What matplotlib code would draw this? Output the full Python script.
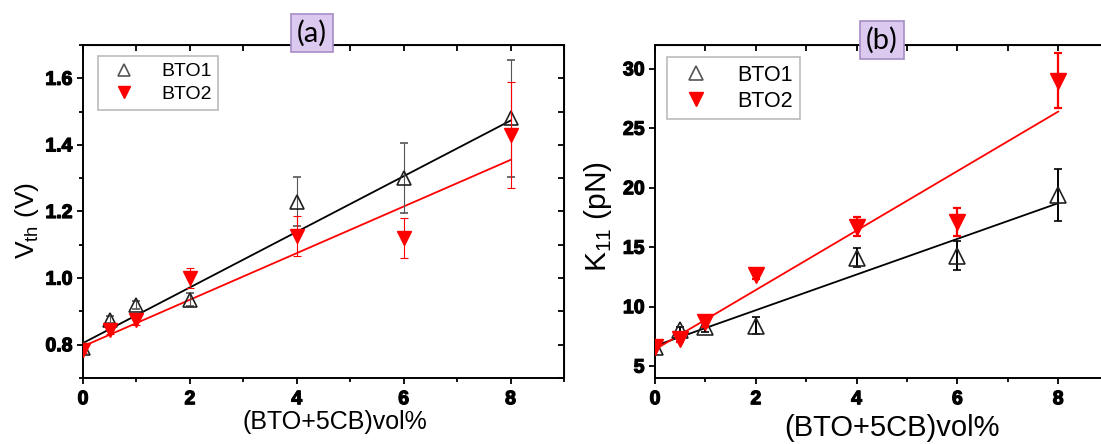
import matplotlib
matplotlib.use('Agg')
import matplotlib.pyplot as plt
import matplotlib.patheffects as pe
import numpy as np
from matplotlib.ticker import MultipleLocator

plt.rcParams['font.family'] = ['Liberation Sans', 'DejaVu Sans']
plt.rcParams['mathtext.fontset'] = 'custom'
plt.rcParams['mathtext.rm'] = 'Liberation Sans'

# concentration (vol%)
conc = [0, 0.5, 1, 2, 4, 6, 8]
x_ticks = [0, 2, 4, 6, 8]

# (a) threshold voltage
vth_bto1 = [0.79, 0.875, 0.92, 0.935, 1.23, 1.30, 1.48]
vth_bto1_err = [0.01, 0.01, 0.012, 0.02, 0.075, 0.105, 0.175]
vth_bto2 = [0.785, 0.845, 0.875, 1.0, 1.125, 1.12, 1.43]
vth_bto2_err = [0.01, 0.012, 0.015, 0.03, 0.06, 0.06, 0.16]
vth_fit1 = (0.0835, 0.805)   # slope, intercept
vth_fit2 = (0.070, 0.795)
vth_ticks = [0.8, 1.0, 1.2, 1.4, 1.6]
vth_ticklabels = ['0.8', '1.0', '1.2', '1.4', '1.6']

# (b) splay elastic constant
k11_bto1 = [6.6, 8.0, 8.3, 8.4, 14.1, 14.3, 19.4]
k11_bto1_err = [0.2, 0.3, 0.4, 0.7, 0.8, 1.2, 2.2]
k11_bto2 = [6.6, 7.3, 8.7, 12.7, 16.7, 17.1, 29.0]
k11_bto2_err = [0.2, 0.3, 0.4, 0.4, 0.8, 1.2, 2.3]
k11_fit1 = (1.5, 6.7)
k11_fit2 = (2.5, 6.4)
k11_ticks = [5, 10, 15, 20, 25, 30]
k11_ticklabels = ['5', '10', '15', '20', '25', '30']

W, H = 1101, 444
fig = plt.figure(figsize=(W / 100, H / 100), dpi=100)
bold_fx = [pe.withStroke(linewidth=0.9, foreground='black')]


def make_axes(left, right, top, bottom):
    return fig.add_axes([left / W, 1 - bottom / H, (right - left) / W, (bottom - top) / H])


def style(ax, yt, ytl, ymin, tsize):
    ax.set_xticks(x_ticks)
    ax.set_xticklabels([str(v) for v in x_ticks], fontweight='bold', fontsize=tsize)
    ax.xaxis.set_minor_locator(MultipleLocator(1))
    ax.set_yticks(yt)
    ax.set_yticklabels(ytl, fontweight='bold', fontsize=tsize)
    for lab in ax.get_xticklabels() + ax.get_yticklabels():
        lab.set_path_effects(bold_fx)
    if ymin:
        ax.yaxis.set_minor_locator(MultipleLocator(ymin))
    ax.tick_params(which='both', direction='out', width=1.3, top=False, right=False)
    ax.tick_params(which='major', length=4.5)
    ax.tick_params(which='minor', length=3)
    ax.tick_params(axis='x', pad=5)
    ax.tick_params(axis='y', pad=3)
    for s in ax.spines.values():
        s.set_linewidth(1.4)
    top = ax.secondary_xaxis('top')
    top.set_xticks(x_ticks)
    top.xaxis.set_minor_locator(MultipleLocator(1))
    top.tick_params(which='both', direction='in', labeltop=False, width=1.3, length=4)
    right = ax.secondary_yaxis('right')
    right.set_yticks(yt)
    if ymin:
        right.yaxis.set_minor_locator(MultipleLocator(ymin))
    right.tick_params(which='both', direction='in', labelright=False, width=1.3, length=4)


def panel(ax, y1, e1, y2, e2, f1, f2, ms, elw1, elw2, ecol1):
    xf = np.array([0, 8])
    ax.plot(xf, f1[0] * xf + f1[1], color='black', lw=1.3, zorder=2)
    ax.plot(xf, f2[0] * xf + f2[1], color='red', lw=1.3, zorder=2)
    ax.errorbar(conc, y1, yerr=e1, fmt='^', ms=ms, mfc='none', mec='#222222', mew=1.2,
                ecolor=ecol1, elinewidth=elw1, capsize=3, capthick=elw1, zorder=3)
    ax.errorbar(conc, y2, yerr=e2, fmt='v', ms=ms, mfc='red', mec='red',
                ecolor='red', elinewidth=elw2, capsize=3, capthick=elw2, zorder=4)
    ax.set_xlim(0, 9)


# panel (a)
axa = make_axes(83, 564, 45, 378)
panel(axa, vth_bto1, vth_bto1_err, vth_bto2, vth_bto2_err, vth_fit1, vth_fit2,
      9.5, 0.8, 0.8, '#555555')
axa.set_ylim(0.7, 1.7)
style(axa, vth_ticks, vth_ticklabels, 0.1, 14)
axa.set_xlabel('(BTO+5CB)vol%', fontsize=18)
axa.xaxis.set_label_coords(0.524, -0.095)
axa.set_ylabel(r'V$_\mathregular{th}$ (V)', fontsize=19)
axa.yaxis.set_label_coords(-0.088, 0.474)

# panel (b)
axb = make_axes(655, 1108.6, 45, 378)
panel(axb, k11_bto1, k11_bto1_err, k11_bto2, k11_bto2_err, k11_fit1, k11_fit2,
      12, 1.4, 1.6, 'black')
axb.set_ylim(4, 32)
style(axb, k11_ticks, k11_ticklabels, None, 14)
axb.set_xlabel('(BTO+5CB)vol%', fontsize=21)
axb.xaxis.set_label_coords(0.523, -0.108)
axb.set_ylabel(r'K$_\mathregular{11}$ (pN)', fontsize=21.5)
axb.yaxis.set_label_coords(-0.09, 0.486)

# legends
for ax, anchor, fs, lms in [(axa, (0.031, 0.967), 14, 8), (axb, (0.026, 0.964), 15.5, 9.5)]:
    h1 = ax.plot([], [], '^', ms=lms, mfc='none', mec='#555555', mew=1.2)[0]
    h2 = ax.plot([], [], 'v', ms=lms, mfc='red', mec='red')[0]
    leg = ax.legend([h1, h2], ['BTO1', 'BTO2'], loc='upper left', bbox_to_anchor=anchor,
                    borderaxespad=0, fontsize=fs, frameon=True,
                    fancybox=False, edgecolor='#aaaaaa', handletextpad=0.9,
                    labelspacing=0.25, borderpad=0.35, handlelength=2.0)
    leg.get_frame().set_linewidth(1.2)

# panel tags
for x, y, s in [(312, 33, '(a)'), (882, 40, '(b)')]:
    fig.text(x / W, 1 - y / H, s, fontsize=21, family='Lato',
             ha='center', va='center',
             bbox=dict(boxstyle='square,pad=0.2', fc='#dcc9f0', ec='#a68cc6', lw=1.2),
             zorder=10)

fig.savefig('out.png', dpi=100)
